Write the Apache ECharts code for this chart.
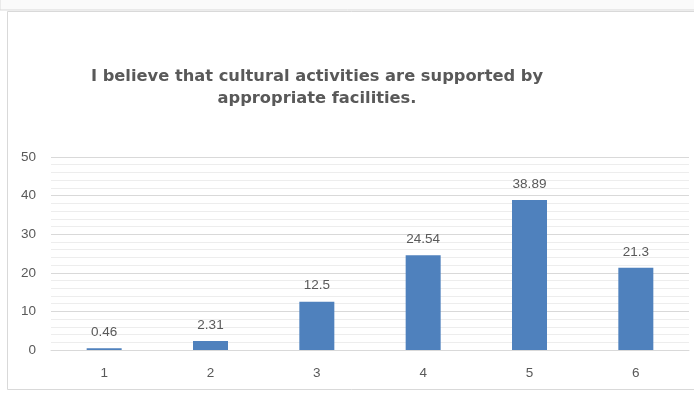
<!DOCTYPE html>
<html>
<head>
<meta charset="utf-8">
<script src="https://cdn.jsdelivr.net/npm/echarts@6/dist/echarts.min.js"></script>
<style>
  html, body { margin: 0; padding: 0; background: #ffffff; }
  #chart { width: 694px; height: 394px; }
</style>
</head>
<body>
<div id="chart"></div>
<script>
// Response scale categories and share of answers (%)
const categories = ['1', '2', '3', '4', '5', '6'];
const values = [0.46, 2.31, 12.5, 24.54, 38.89, 21.3];
const titleText = 'I believe that cultural activities are supported by\nappropriate facilities.';

const chart = echarts.init(document.getElementById('chart'), null, { renderer: 'canvas' });

const textColor = '#595959';
const labelFont = 'Arial, Liberation Sans, sans-serif';

chart.setOption({
  animation: false,
  backgroundColor: '#ffffff',
  graphic: [
    {
      type: 'rect',
      shape: { x: 0, y: -1, width: 700, height: 11 },
      style: { fill: '#fafafa', stroke: '#d9d9d9', lineWidth: 1 },
      silent: true
    },
    {
      type: 'rect',
      shape: { x: 7.5, y: 11.5, width: 700, height: 378 },
      style: { fill: 'none', stroke: '#d9d9d9', lineWidth: 1 },
      silent: true
    }
  ],
  title: {
    text: titleText,
    left: 312,
    top: 61,
    textAlign: 'center',
    textStyle: {
      fontFamily: 'DejaVu Sans, sans-serif',
      fontWeight: 'bold',
      fontSize: 16.3,
      color: textColor,
      lineHeight: 22
    }
  },
  grid: { left: 51, right: 5, top: 157, bottom: 44, containLabel: false },
  xAxis: {
    type: 'category',
    data: categories,
    axisTick: { show: false },
    axisLine: { lineStyle: { color: '#d9d9d9' } },
    axisLabel: { color: textColor, fontSize: 13.5, fontFamily: labelFont, margin: 16 }
  },
  yAxis: {
    type: 'value',
    min: 0,
    max: 50,
    interval: 10,
    axisLine: { show: false },
    axisTick: { show: false },
    axisLabel: { color: textColor, fontSize: 13.5, fontFamily: labelFont, margin: 15 },
    splitLine: { lineStyle: { color: '#d9d9d9', width: 1 } },
    minorTick: { show: false, splitNumber: 5 },
    minorSplitLine: { show: true, lineStyle: { color: '#ededed', width: 1 } }
  },
  series: [{
    type: 'bar',
    data: values,
    barWidth: 35,
    itemStyle: { color: '#4f81bd' },
    label: {
      show: true,
      position: 'top',
      distance: 9,
      color: textColor,
      fontSize: 13.5,
      fontFamily: labelFont
    }
  }]
});
</script>
</body>
</html>
